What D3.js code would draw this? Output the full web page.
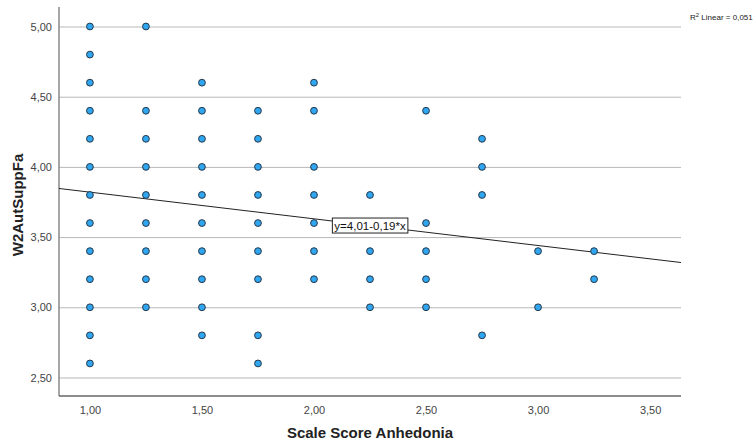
<!DOCTYPE html>
<html>
<head>
<meta charset="utf-8">
<script src="https://cdn.jsdelivr.net/npm/d3@7"></script>
<style>
    body { margin: 0; background: #fff; }
    text { font-family: "Liberation Sans", Arial, sans-serif; }
</style>
</head>
<body>
<div id="chart"></div>
<script>
// x values (Scale Score Anhedonia) and the y values seen at each one
const xValues = [1.00, 1.25, 1.50, 1.75, 2.00, 2.25, 2.50, 2.75, 3.00, 3.25];
const yAtX = [
    [5.0, 4.8, 4.6, 4.4, 4.2, 4.0, 3.8, 3.6, 3.4, 3.2, 3.0, 2.8, 2.6],
    [5.0, 4.4, 4.2, 4.0, 3.8, 3.6, 3.4, 3.2, 3.0],
    [4.6, 4.4, 4.2, 4.0, 3.8, 3.6, 3.4, 3.2, 3.0, 2.8],
    [4.4, 4.2, 4.0, 3.8, 3.6, 3.4, 3.2, 2.8, 2.6],
    [4.6, 4.4, 4.0, 3.8, 3.6, 3.4, 3.2],
    [3.8, 3.4, 3.2, 3.0],
    [4.4, 3.6, 3.4, 3.2, 3.0],
    [4.2, 4.0, 3.8, 2.8],
    [3.4, 3.0],
    [3.4, 3.2]
];
const xTicks = [1.0, 1.5, 2.0, 2.5, 3.0, 3.5];
const yTicks = [2.5, 3.0, 3.5, 4.0, 4.5, 5.0];
const intercept = 4.01, slope = -0.19;
const r2Text = "0,051";

const WIDTH = 756, HEIGHT = 447;
const margins = { top: 7, left: 59, bottom: 51, right: 75 };
const width = WIDTH - margins.left - margins.right,
    height = HEIGHT - margins.top - margins.bottom;

// comma decimals, plain hyphen minus
const fmt = v => d3.format(".2f")(v).replace(".", ",").replace("\u2212", "-");

const svg = d3.select("#chart")
    .append("svg")
    .attr("width", WIDTH)
    .attr("height", HEIGHT);

const xScale = d3.scaleLinear().domain([0.862, 3.638]).range([0, width]);
const yScale = d3.scaleLinear().domain([2.368, 5.139]).range([height, 0]);

const g = svg.append("g")
    .attr("transform", `translate(${margins.left}, ${margins.top})`);

// gridlines + y labels
const yAxis = g.append("g")
    .call(d3.axisLeft(yScale).tickValues(yTicks).tickFormat(fmt).tickSize(0).tickPadding(7));
yAxis.select(".domain").remove();
yAxis.selectAll(".tick line")
    .attr("x2", width)
    .attr("stroke", "#b8b8b8")
    .attr("stroke-width", 1);
yAxis.selectAll(".tick text")
    .attr("font-size", 11)
    .attr("fill", "#444")
    .attr("font-family", "Liberation Sans, Arial, sans-serif");

const xAxis = g.append("g")
    .attr("transform", `translate(0, ${height})`)
    .call(d3.axisBottom(xScale).tickValues(xTicks).tickFormat(fmt).tickSize(0).tickPadding(10));
xAxis.select(".domain").remove();
xAxis.selectAll(".tick text")
    .attr("font-size", 11)
    .attr("fill", "#444")
    .attr("font-family", "Liberation Sans, Arial, sans-serif");

// axis frame lines
g.append("line")
    .attr("x1", 0).attr("x2", 0)
    .attr("y1", 0).attr("y2", height)
    .attr("stroke", "#888").attr("stroke-width", 1.5);
g.append("line")
    .attr("x1", 0).attr("x2", width)
    .attr("y1", height).attr("y2", height)
    .attr("stroke", "#666").attr("stroke-width", 1.5);

// fit line
const [x0, x1] = xScale.domain();
g.append("line")
    .attr("x1", xScale(x0)).attr("y1", yScale(intercept + slope * x0))
    .attr("x2", xScale(x1)).attr("y2", yScale(intercept + slope * x1))
    .attr("stroke", "#222").attr("stroke-width", 1);

// points
const points = [];
xValues.forEach((x, i) => yAtX[i].forEach(y => points.push({ x, y })));

g.append("g")
    .selectAll("circle")
    .data(points)
    .join("circle")
    .attr("cx", d => xScale(d.x))
    .attr("cy", d => yScale(d.y))
    .attr("r", 3.4)
    .attr("fill", "#30a6f0")
    .attr("stroke", "#25384a")
    .attr("stroke-width", 1);

// equation label at middle of x range
const xm = (x0 + x1) / 2;
const eq = g.append("g")
    .attr("transform", `translate(${xScale(xm)}, ${yScale(intercept + slope * xm)})`);
const eqText = eq.append("text")
    .attr("text-anchor", "middle")
    .attr("dy", "0.35em")
    .attr("font-size", 11.5)
    .attr("fill", "#111")
    .text(`y=${fmt(intercept)}${fmt(slope)}*x`);
const bb = eqText.node().getBBox();
eq.insert("rect", "text")
    .attr("x", bb.x - 2).attr("y", bb.y - 1.5)
    .attr("width", bb.width + 4).attr("height", bb.height + 3)
    .attr("fill", "#fff")
    .attr("stroke", "#222")
    .attr("stroke-width", 1);

// R2 label right of the plot
const r2 = svg.append("text")
    .attr("x", 690)
    .attr("y", 20)
    .attr("font-size", 8)
    .attr("fill", "#222");
r2.append("tspan").text("R");
r2.append("tspan").attr("font-size", 6).attr("dy", -3.5).text("2");
r2.append("tspan").attr("dy", 3.5).text(` Linear = ${r2Text}`);

// axis titles
svg.append("text")
    .attr("x", margins.left + xScale(2.25))
    .attr("y", 438)
    .attr("text-anchor", "middle")
    .attr("font-size", 15)
    .attr("font-weight", "bold")
    .attr("fill", "#222")
    .text("Scale Score Anhedonia");

svg.append("text")
    .attr("transform", `translate(23, 205) rotate(-90)`)
    .attr("text-anchor", "middle")
    .attr("font-size", 15)
    .attr("font-weight", "bold")
    .attr("fill", "#222")
    .text("W2AutSuppFa");
</script>
</body>
</html>
